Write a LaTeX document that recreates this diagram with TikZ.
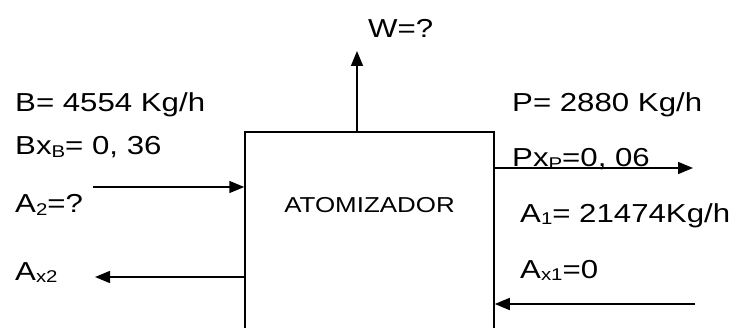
\documentclass[tikz,border=0pt]{standalone}
\usepackage{fontspec}
\setmainfont{Liberation Sans}[FakeStretch=1.2]
\usetikzlibrary{arrows.meta}
\newcommand{\subtx}[1]{\raisebox{-2.5pt}{\fontsize{17}{17}\selectfont #1}}
\tikzset{
  x=1pt,y=1pt,
  flow/.style={line width=1.5pt,-{Triangle[length=15pt,width=12pt]}},
  lab/.style={anchor=base west,inner sep=0pt,font=\fontsize{26}{26}\selectfont},
  unit/.style={draw,line width=1.5pt,minimum width=249pt,minimum height=210pt,inner sep=0pt}
}
\begin{document}
\begin{tikzpicture}
\clip (0,0) rectangle (736,327);
\node[unit] (atom) at (369.5,90) {};
\node[anchor=base,inner sep=0pt,font=\fontsize{21.6}{21.6}\selectfont] (name) at (369.5,115) {ATOMIZADOR};
% top outlet
\coordinate (wtip) at (357,276);
\draw[flow] (atom.north -| wtip) -- (wtip);
\node[lab] (w) at (368,289) {W=?};
% left inlet
\coordinate (bin) at (93,140);
\draw[flow] (bin) -- (bin -| atom.west);
% left outlet
\coordinate (aout) at (95,50);
\draw[flow] (aout -| atom.west) -- (aout);
% right outlet
\coordinate (pout) at (693,159);
\draw[flow] (pout -| atom.east) -- (pout);
% right inlet
\coordinate (ain) at (695,23);
\draw[flow] (ain) -- (ain -| atom.east);
% left labels
\node[lab] (b) at (15,215) {B= 4554 Kg/h};
\node[lab] (bx) at (15,172) {Bx\subtx{B}= 0, 36};
\node[lab] (a2) at (15,114) {A\subtx{2}=?};
\node[lab] (ax2) at (15,47) {A\subtx{x2}};
% right labels
\node[lab] (p) at (512,215) {P= 2880 Kg/h};
\node[lab] (px) at (512,160) {Px\subtx{P}=0, 06};
\node[lab] (a1) at (520,105) {A\subtx{1}= 21474Kg/h};
\node[lab] (ax1) at (520,49) {A\subtx{x1}=0};
\end{tikzpicture}
\end{document}
